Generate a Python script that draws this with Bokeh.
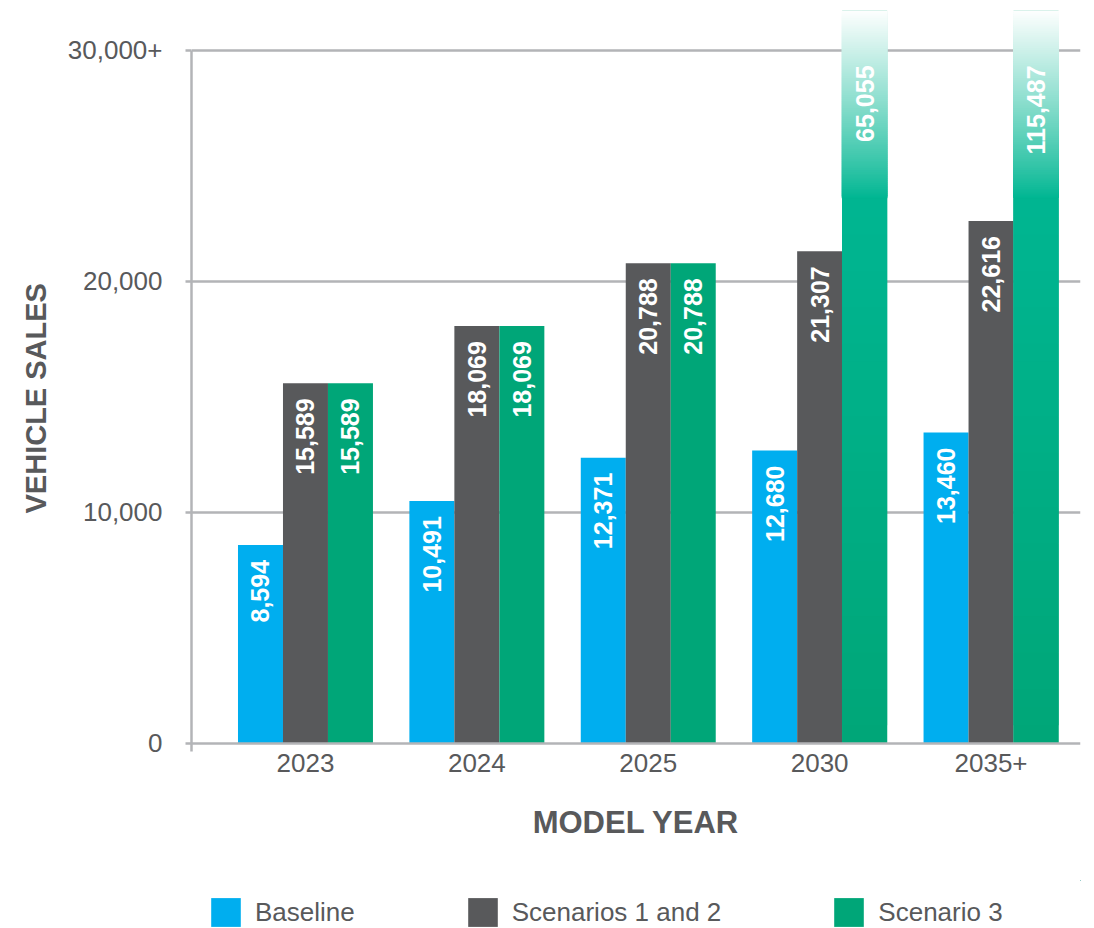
import numpy as np
from bokeh.plotting import figure
from bokeh.layouts import column
from bokeh.models import Range1d, FixedTicker, Span, Legend, LegendItem, Title
from bokeh.embed import file_html
from bokeh.resources import INLINE
from bokeh.core.properties import value

# ---------------- data ----------------
years = ["2023", "2024", "2025", "2030", "2035+"]
baseline = [8594, 10491, 12371, 12680, 13460]
scenarios_1_2 = [15589, 18069, 20788, 21307, 22616]
scenario_3 = [15589, 18069, 20788, 65055, 115487]
series_names = ["Baseline", "Scenarios 1 and 2", "Scenario 3"]
y_ticks = [0, 10000, 20000, 30000]
y_tick_labels = ["0", "10,000", "20,000", "30,000+"]
axis_cap = 30000

# ---------------- style ----------------
colors = ["#00aeef", "#58595b", "#00a678"]
TEAL = (0, 182, 146)
GREEN = (0, 166, 120)
FONT = "Liberation Sans"
TEXT = "#58595b"
GRID = "#b3b4b7"

Y_TOP = 31730
Y_BOTTOM = -348
FADE_START = 23600
BAR_W = 0.2625


def mix(c1, c2, t):
    t = max(0.0, min(1.0, t))
    return "#%02x%02x%02x" % tuple(int(round(a + (b - a) * t)) for a, b in zip(c1, c2))


p = figure(width=1094, height=880, output_backend="svg", toolbar_location=None,
           x_range=Range1d(-0.665, 4.522), y_range=Range1d(Y_BOTTOM, Y_TOP),
           min_border_left=191, min_border_right=14, min_border_top=10,
           min_border_bottom=129)
p.outline_line_color = None
p.background_fill_color = "white"
p.border_fill_color = "white"
p.xgrid.visible = False
p.ygrid.ticker = FixedTicker(ticks=y_ticks[1:])
p.ygrid.grid_line_color = GRID
p.ygrid.grid_line_width = 2.5

x_idx = np.arange(len(years))
all_series = [baseline, scenarios_1_2, scenario_3]
label_x, label_y, label_t = [], [], []
for k, (vals, col) in enumerate(zip(all_series, colors)):
    xs = x_idx + (k - 1) * BAR_W
    p.vbar(x=xs, top=vals, bottom=0, width=BAR_W, fill_color=col, line_color=None)
    for xv, v in zip(xs, vals):
        label_x.append(xv)
        label_y.append(min(v, axis_cap))
        label_t.append(f"{v:,}")
        if v > axis_cap:
            # opaque overlapping slices: green -> teal through the bar, then fade to white
            n1 = 30
            e1 = np.linspace(0, FADE_START, n1 + 1)
            c1 = [mix(GREEN, TEAL, (e1[j] / FADE_START)) for j in range(n1)]
            p.quad(left=[xv - BAR_W / 2] * n1, right=[xv + BAR_W / 2] * n1,
                   bottom=e1[:-1], top=np.append(e1[2:], FADE_START),
                   fill_color=c1, line_color=None)
            n2 = 100
            e2 = np.linspace(FADE_START, Y_TOP, n2 + 1)
            c2 = [mix(TEAL, (255, 255, 255), ((e2[j] - FADE_START) / (Y_TOP - FADE_START)) ** 0.9)
                  for j in range(n2)]
            hw = BAR_W / 2 * 1.02
            p.quad(left=[xv - hw] * n2, right=[xv + hw] * n2,
                   bottom=e2[:-1], top=np.append(e2[2:], Y_TOP),
                   fill_color=c2, line_color=None)

p.text(x=label_x, y=label_y, text=label_t, angle=np.pi / 2,
       text_align="right", text_baseline="middle", y_offset=15,
       text_color="white", text_font=value(FONT), text_font_style="bold",
       text_font_size="25px")

p.add_layout(Span(location=0, dimension="width", line_color=GRID, line_width=2.5))

# x axis
xa = p.xaxis[0]
xa.ticker = FixedTicker(ticks=list(range(len(years))))
xa.major_label_overrides = {i: y for i, y in enumerate(years)}
xa.axis_line_color = None
xa.major_tick_line_color = None
xa.major_tick_out = 0
xa.major_tick_in = 0
xa.minor_tick_line_color = None
xa.major_label_standoff = 2
xa.major_label_text_font = FONT
xa.major_label_text_font_size = "26px"
xa.major_label_text_color = TEXT
xa.axis_label = "MODEL YEAR"
xa.axis_label_text_font = FONT
xa.axis_label_text_font_style = "bold"
xa.axis_label_text_font_size = "31px"
xa.axis_label_text_color = TEXT
xa.axis_label_standoff = 30

# y axis
ya = p.yaxis[0]
ya.ticker = FixedTicker(ticks=y_ticks)
ya.major_label_overrides = {t: l for t, l in zip(y_ticks, y_tick_labels)}
ya.bounds = (Y_BOTTOM, axis_cap)
ya.axis_line_color = GRID
ya.axis_line_width = 2.5
ya.major_tick_out = 6
ya.major_tick_in = 0
ya.major_tick_line_color = GRID
ya.major_tick_line_width = 2.5
ya.minor_tick_line_color = None
ya.major_label_standoff = 23
ya.major_label_text_font = FONT
ya.major_label_text_font_size = "26px"
ya.major_label_text_color = TEXT

ytitle = Title(text="VEHICLE SALES", align="left", offset=238,
               text_font=FONT, text_font_style="bold", text_font_size="29px",
               text_color=TEXT, standoff=26)
p.add_layout(ytitle, "left")

# ---------------- legend strip ----------------
lp = figure(width=1094, height=48, output_backend="svg", toolbar_location=None,
            x_range=Range1d(0, 1), y_range=Range1d(0, 1),
            x_axis_type=None, y_axis_type=None, min_border=0)
lp.outline_line_color = None
lp.grid.visible = False
# zero-size bars that only carry the legend swatches
dummies = [lp.vbar(x=x_idx, top=vals, bottom=vals, width=0, fill_color=c, line_color=None)
           for vals, c in zip(all_series, colors)]
legend = Legend(items=[LegendItem(label=n, renderers=[r]) for n, r in zip(series_names, dummies)],
                orientation="horizontal", location=(16, -2),
                glyph_width=37, glyph_height=36, label_standoff=11, spacing=109,
                padding=0, margin=0, border_line_color=None, background_fill_alpha=0,
                label_text_font=FONT, label_text_font_size="26px", label_text_color=TEXT)
lp.add_layout(legend)

open("out.html", "w").write(file_html(column(p, lp), INLINE))
